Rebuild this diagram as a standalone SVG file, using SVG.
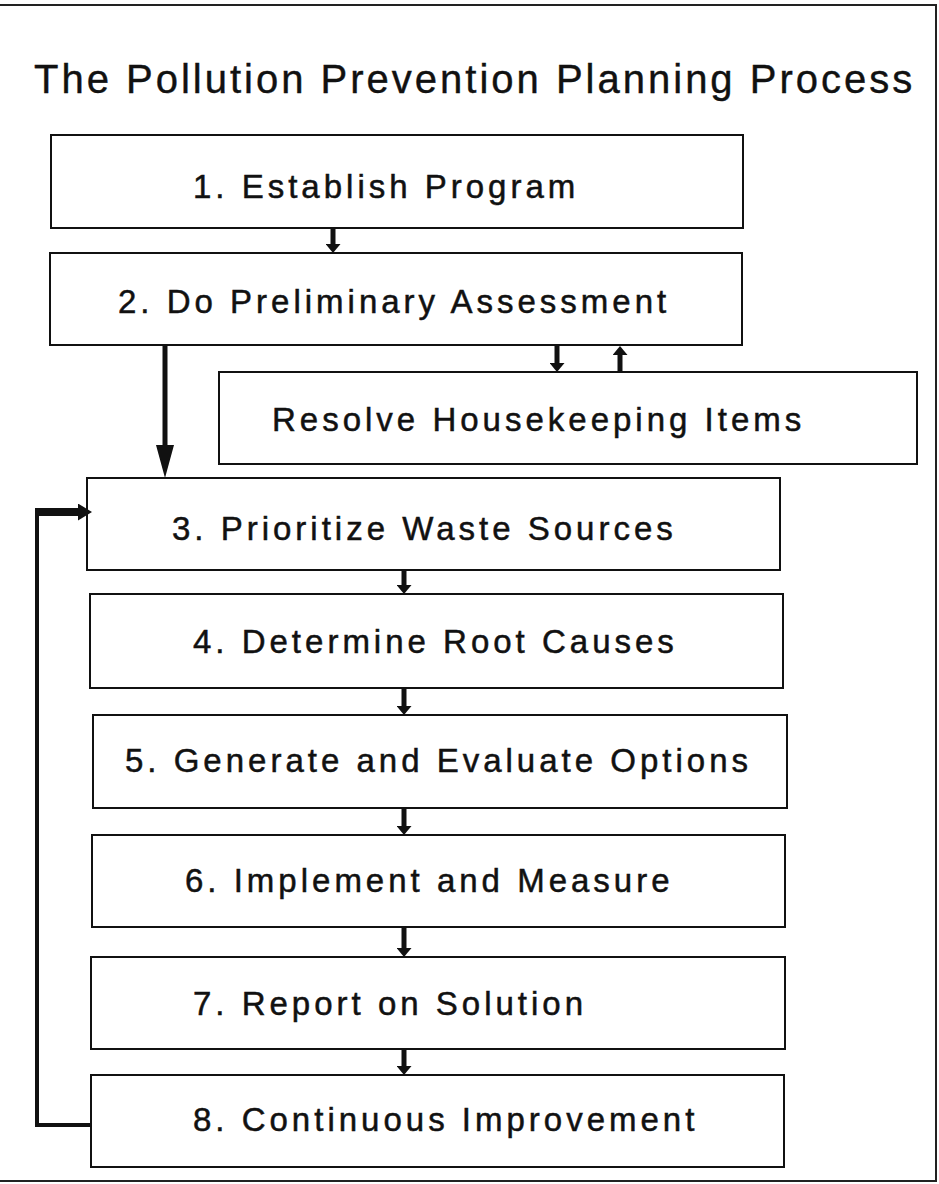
<svg xmlns="http://www.w3.org/2000/svg" width="939" height="1184" viewBox="0 0 939 1184">
  <style>
    .box { fill: #ffffff; stroke: #111111; stroke-width: 2; }
    .lbl { font-family: "Liberation Sans", Arial, sans-serif; font-size: 33px; letter-spacing: 4px; fill: #111111; stroke: #111111; stroke-width: 0.5; }
    .title { font-family: "Liberation Sans", Arial, sans-serif; font-size: 40px; letter-spacing: 3px; fill: #111111; stroke: #111111; stroke-width: 0.4; }
    .flow { stroke: #111111; stroke-width: 5; fill: none; }
    .frame { stroke: #222222; stroke-width: 2; fill: none; }
  </style>
  <defs>
    <marker id="head-s" markerUnits="userSpaceOnUse" markerWidth="9" markerHeight="15" refX="0" refY="7.5" orient="auto">
      <path d="M0,0 L9,7.5 L0,15 z" fill="#111111"/>
    </marker>
    <marker id="head-l" markerUnits="userSpaceOnUse" markerWidth="33" markerHeight="18" refX="0" refY="9" orient="auto">
      <path d="M0,0 L33,9 L0,18 z" fill="#111111"/>
    </marker>
    <marker id="head-loop" markerUnits="userSpaceOnUse" markerWidth="14" markerHeight="17" refX="0" refY="8.5" orient="auto">
      <path d="M0,0 L14,8.5 L0,17 z" fill="#111111"/>
    </marker>
  </defs>

  <rect width="939" height="1184" fill="#ffffff"/>
  <!-- page frame: top, right and bottom rules -->
  <path class="frame" d="M0,5 H936 V1181 H0"/>

  <text class="title" x="34" y="93">The Pollution Prevention Planning Process</text>

  <g id="step1">
    <rect class="box" x="51" y="135" width="692" height="93"/>
    <text class="lbl" x="193" y="198">1. Establish Program</text>
  </g>
  <g id="step2">
    <rect class="box" x="50" y="253" width="692" height="92"/>
    <text class="lbl" x="118" y="313">2. Do Preliminary Assessment</text>
  </g>
  <g id="housekeeping">
    <rect class="box" x="219" y="372" width="698" height="92"/>
    <text class="lbl" x="272" y="431">Resolve Housekeeping Items</text>
  </g>
  <g id="step3">
    <rect class="box" x="87" y="478" width="693" height="92"/>
    <text class="lbl" x="172" y="540">3. Prioritize Waste Sources</text>
  </g>
  <g id="step4">
    <rect class="box" x="90" y="594" width="693" height="94"/>
    <text class="lbl" x="193" y="653">4. Determine Root Causes</text>
  </g>
  <g id="step5">
    <rect class="box" x="93" y="715" width="694" height="93"/>
    <text class="lbl" x="125" y="772">5. Generate and Evaluate Options</text>
  </g>
  <g id="step6">
    <rect class="box" x="92" y="835" width="693" height="92"/>
    <text class="lbl" x="185" y="892">6. Implement and Measure</text>
  </g>
  <g id="step7">
    <rect class="box" x="91" y="957" width="694" height="92"/>
    <text class="lbl" x="193" y="1015">7. Report on Solution</text>
  </g>
  <g id="step8">
    <rect class="box" x="91" y="1075" width="693" height="92"/>
    <text class="lbl" x="193" y="1131">8. Continuous Improvement</text>
  </g>

  <g id="connectors">
    <!-- main sequence -->
    <line class="flow" x1="333" y1="228" x2="333" y2="244" marker-end="url(#head-s)"/>
    <line class="flow" x1="404" y1="570" x2="404" y2="585" marker-end="url(#head-s)"/>
    <line class="flow" x1="404" y1="688" x2="404" y2="706" marker-end="url(#head-s)"/>
    <line class="flow" x1="404" y1="808" x2="404" y2="826" marker-end="url(#head-s)"/>
    <line class="flow" x1="404" y1="927" x2="404" y2="948" marker-end="url(#head-s)"/>
    <line class="flow" x1="404" y1="1049" x2="404" y2="1066" marker-end="url(#head-s)"/>
    <!-- housekeeping side loop -->
    <line class="flow" x1="557" y1="345" x2="557" y2="363" marker-end="url(#head-s)"/>
    <line class="flow" x1="620" y1="372" x2="620" y2="355" marker-end="url(#head-s)"/>
    <!-- step 2 straight to step 3 -->
    <line class="flow" x1="165" y1="345" x2="165" y2="445" stroke-width="7" marker-end="url(#head-l)"/>
    <!-- continuous improvement feedback to step 3 -->
    <path d="M91,1125 H37 V512" fill="none" stroke="#111111" stroke-width="4"/>
    <line x1="35" y1="512" x2="78" y2="512" stroke="#111111" stroke-width="8" marker-end="url(#head-loop)"/>
  </g>
</svg>
